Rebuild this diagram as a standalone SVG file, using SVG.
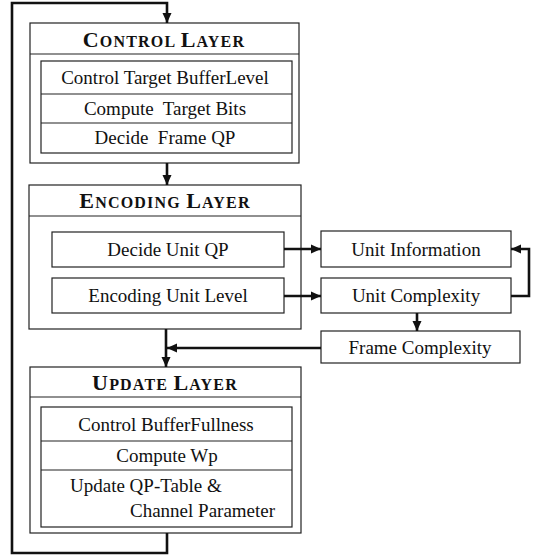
<svg xmlns="http://www.w3.org/2000/svg" width="539" height="556" viewBox="0 0 539 556">
<style>
.box{fill:#fff;stroke:#222;stroke-width:1.2}
.ln{fill:none;stroke:#222;stroke-width:1.2}
.t{font-family:"Liberation Serif","Times New Roman",serif;font-size:19px;fill:#111;text-anchor:middle}
.tl{font-family:"Liberation Serif","Times New Roman",serif;font-size:19px;fill:#111}
.h{font-family:"Liberation Serif","Times New Roman",serif;font-weight:bold;font-size:16px;fill:#111;text-anchor:middle;letter-spacing:1.2px}
.big{font-size:22px}
.c{fill:none;stroke:#111;stroke-width:2.6}
</style>
<defs>
<marker id="ah" markerUnits="userSpaceOnUse" markerWidth="12" markerHeight="12" viewBox="0 0 12 12" refX="11" refY="6" orient="auto">
<path d="M1,1.5 L11,6 L1,10.5 Z" fill="#111"/>
</marker>
</defs>
<rect width="539" height="556" fill="#fff"/>

<g id="control-layer">
<rect class="box" x="30" y="23" width="269" height="140"/>
<line class="ln" x1="30" y1="54" x2="299" y2="54"/>
<text class="h" x="164" y="47"><tspan class="big">C</tspan>ONTROL <tspan class="big">L</tspan>AYER</text>
<rect class="box" x="41" y="61" width="251" height="92"/>
<line class="ln" x1="41" y1="94" x2="292" y2="94"/>
<line class="ln" x1="41" y1="123" x2="292" y2="123"/>
<text class="t" x="165" y="84">Control Target BufferLevel</text>
<text class="t" x="165" y="115" xml:space="preserve">Compute  Target Bits</text>
<text class="t" x="165" y="144" xml:space="preserve">Decide  Frame QP</text>
</g>

<g id="encoding-layer">
<rect class="box" x="29" y="185" width="272" height="144"/>
<line class="ln" x1="29" y1="216" x2="301" y2="216"/>
<text class="h" x="165" y="208"><tspan class="big">E</tspan>NCODING <tspan class="big">L</tspan>AYER</text>
</g>
<g id="decide-unit-qp">
<rect class="box" x="52" y="232" width="232" height="35"/>
<text class="t" x="168" y="256">Decide Unit QP</text>
</g>
<g id="encoding-unit-level">
<rect class="box" x="52" y="278" width="232" height="35"/>
<text class="t" x="168" y="302">Encoding Unit Level</text>
</g>

<g id="unit-information">
<rect class="box" x="321" y="231" width="190" height="36"/>
<text class="t" x="416" y="256">Unit Information</text>
</g>
<g id="unit-complexity">
<rect class="box" x="321" y="278" width="190" height="35"/>
<text class="t" x="416" y="302">Unit Complexity</text>
</g>
<g id="frame-complexity">
<rect class="box" x="321" y="331" width="199" height="32"/>
<text class="t" x="420" y="354">Frame Complexity</text>
</g>

<g id="update-layer">
<rect class="box" x="30" y="367" width="271" height="166"/>
<line class="ln" x1="30" y1="397" x2="301" y2="397"/>
<text class="h" x="165" y="390"><tspan class="big">U</tspan>PDATE <tspan class="big">L</tspan>AYER</text>
<rect class="box" x="41" y="407" width="251" height="120"/>
<line class="ln" x1="41" y1="441" x2="292" y2="441"/>
<line class="ln" x1="41" y1="470" x2="292" y2="470"/>
<text class="t" x="166" y="431">Control BufferFullness</text>
<text class="t" x="167" y="462">Compute Wp</text>
<text class="tl" x="70" y="492">Update QP-Table &amp;</text>
<text class="tl" x="130" y="517">Channel Parameter</text>
</g>

<g id="connectors">
<path class="c" d="M167,533 V553 H12 V3 H167 V23" marker-end="url(#ah)"/>
<path class="c" d="M167,163 V185" marker-end="url(#ah)"/>
<path class="c" d="M166,329 V367" marker-end="url(#ah)"/>
<path class="c" d="M321,348 H167" marker-end="url(#ah)"/>
<path class="c" d="M284,249 H321" marker-end="url(#ah)"/>
<path class="c" d="M284,296 H321" marker-end="url(#ah)"/>
<path class="c" d="M511,296 H529 V249 H511" marker-end="url(#ah)"/>
<path class="c" d="M417,313 V331" marker-end="url(#ah)"/>
</g>
</svg>
